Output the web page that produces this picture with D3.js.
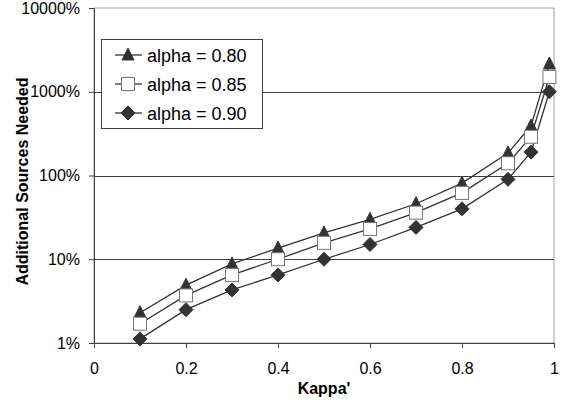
<!DOCTYPE html>
<html>
<head>
<meta charset="utf-8">
<script src="https://cdn.jsdelivr.net/npm/d3@7"></script>
<style>
  body { margin: 0; background: #fff; }
  text { font-family: "Liberation Sans", Arial, sans-serif; }
</style>
</head>
<body>
<div id="graph"></div>
<script>
// data (percent values)
const kappa = [0.1, 0.2, 0.3, 0.4, 0.5, 0.6, 0.7, 0.8, 0.9, 0.95, 0.99];
const alpha80 = [2.3, 4.9, 8.8, 13.6, 20.6, 30, 46, 81, 186, 390, 2150];
const alpha85 = [1.7, 3.7, 6.5, 10, 15.7, 23, 36, 62, 140, 290, 1500];
const alpha90 = [1.12, 2.5, 4.3, 6.5, 10, 15, 24, 40, 90, 190, 1000];
const seriesNames = ["alpha = 0.80", "alpha = 0.85", "alpha = 0.90"];
const yTicks = [1, 10, 100, 1000, 10000];
const xTicks = [0, 0.2, 0.4, 0.6, 0.8, 1];

const width = 563, height = 402;
const margin = { top: 8, right: 9, bottom: 59, left: 94 };

const svg = d3.select("#graph").append("svg")
    .attr("width", width)
    .attr("height", height);

const x = d3.scaleLinear().domain([0, 1]).range([margin.left, width - margin.right]);
const y = d3.scaleLog().domain([1, 10000]).range([height - margin.bottom, margin.top]);

// frame (light gray top/right)
svg.append("rect")
    .attr("x", x(0)).attr("y", y(10000))
    .attr("width", x(1) - x(0)).attr("height", y(1) - y(10000))
    .attr("fill", "none").attr("stroke", "#a0a0a0");

// grid
svg.append("g").selectAll("line")
    .data(yTicks.slice(1, -1))
    .enter().append("line")
    .attr("x1", x(0)).attr("x2", x(1))
    .attr("y1", d => Math.round(y(d)) + 0.5).attr("y2", d => Math.round(y(d)) + 0.5)
    .attr("stroke", "#404040");

// axes
const yAxis = svg.append("g")
    .attr("transform", `translate(${x(0)},0)`)
    .call(d3.axisLeft(y).tickValues(yTicks).tickFormat(d => d + "%").tickSize(5).tickPadding(9));
const xAxis = svg.append("g")
    .attr("transform", `translate(0,${y(1)})`)
    .call(d3.axisBottom(x).tickValues(xTicks).tickFormat(d3.format("")).tickSize(5).tickPadding(15));
[yAxis, xAxis].forEach(g => {
    g.select(".domain").attr("stroke", "#404040");
    g.selectAll(".tick line").attr("stroke", "#404040");
    g.selectAll(".tick text").attr("font-size", 16).attr("fill", "#000")
        .attr("font-family", "Liberation Sans, Arial, sans-serif");
});

// axis titles
svg.append("text")
    .attr("x", x(0.5)).attr("y", 394)
    .attr("text-anchor", "middle")
    .attr("font-size", 16).attr("font-weight", "bold")
    .text("Kappa'");
svg.append("text")
    .attr("transform", `translate(28,${(y(1) + y(10000)) / 2 + 6}) rotate(-90)`)
    .attr("text-anchor", "middle")
    .attr("font-size", 16).attr("font-weight", "bold")
    .text("Additional Sources Needed");

// series
const series = [alpha80, alpha85, alpha90].map((vals, i) => ({
    name: seriesNames[i],
    shape: ["triangle", "square", "diamond"][i],
    values: kappa.map((k, j) => ({ k, v: vals[j] }))
}));

const line = d3.line().x(d => x(d.k)).y(d => y(d.v));

function drawMarker(g, shape, cx, cy) {
    if (shape === "triangle") {
        g.append("path")
            .attr("d", `M${cx},${cy - 7}L${cx + 6},${cy + 5}L${cx - 6},${cy + 5}Z`)
            .attr("fill", "#333").attr("stroke", "#333");
    } else if (shape === "square") {
        g.append("rect")
            .attr("x", cx - 6.5).attr("y", cy - 6.5)
            .attr("width", 13).attr("height", 13)
            .attr("fill", "#fff").attr("stroke", "#777");
    } else {
        g.append("path")
            .attr("d", `M${cx},${cy - 7}L${cx + 7},${cy}L${cx},${cy + 7}L${cx - 7},${cy}Z`)
            .attr("fill", "#333").attr("stroke", "#333");
    }
}

series.forEach(s => {
    svg.append("path")
        .datum(s.values)
        .attr("d", line)
        .attr("fill", "none")
        .attr("stroke", "#333")
        .attr("stroke-width", 1.3);
});
series.forEach(s => {
    const g = svg.append("g");
    s.values.forEach(d => drawMarker(g, s.shape, x(d.k), y(d.v)));
});

// legend
const legend = svg.append("g");
legend.append("rect")
    .attr("x", 101.5).attr("y", 39.5)
    .attr("width", 161).attr("height", 89)
    .attr("fill", "#fff").attr("stroke", "#404040");
series.forEach((s, i) => {
    const ly = 55 + i * 29;
    legend.append("line")
        .attr("x1", 115).attr("x2", 142)
        .attr("y1", ly).attr("y2", ly)
        .attr("stroke", "#333").attr("stroke-width", 1.3);
    drawMarker(legend, s.shape, 128, ly);
    legend.append("text")
        .attr("x", 147).attr("y", ly + 6.5)
        .attr("font-size", 18)
        .text(s.name);
});
</script>
</body>
</html>
